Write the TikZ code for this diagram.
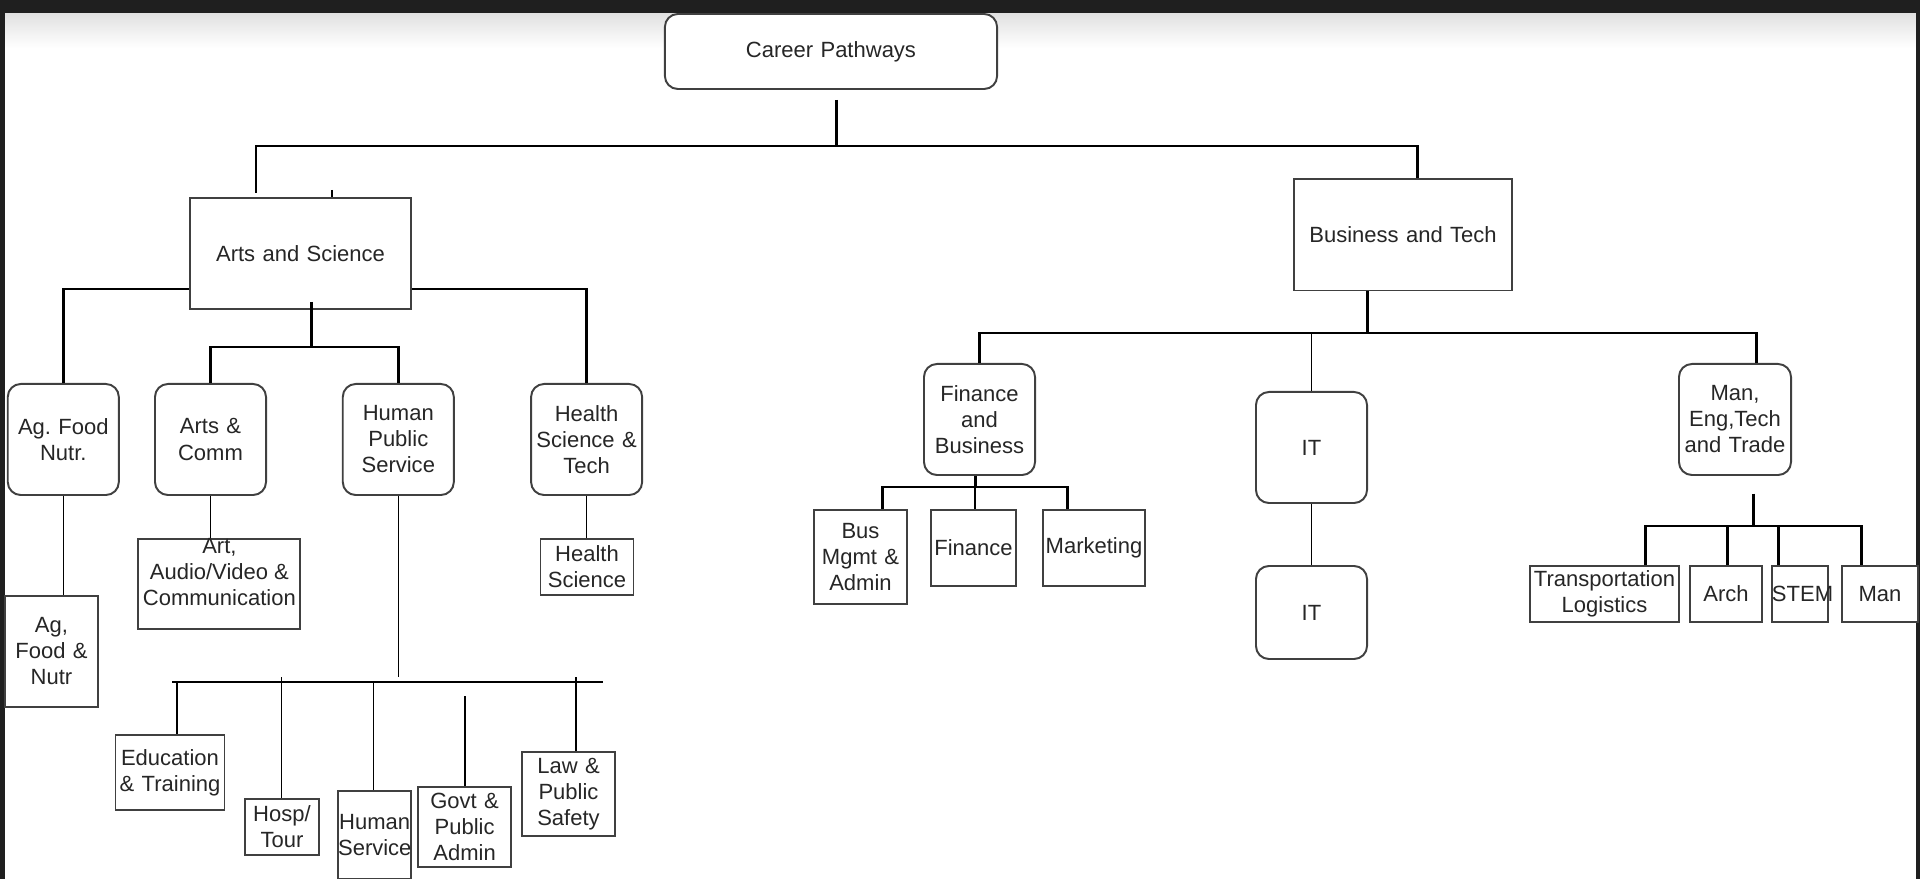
\documentclass[tikz,border=0pt]{standalone}
\usepackage{fontspec}
\setmainfont{Liberation Sans}

\begin{document}
\begin{tikzpicture}[x=0.01cm, y=-0.01cm,
    block_center/.style ={rectangle, draw=black!75, line width=0.55pt, fill=white,
      inner sep=0pt, align=center, text=black!85,
      font=\fontsize{6.26}{7.4}\selectfont},
    block_round/.style ={block_center, rounded corners=0.13cm},
    block_text/.style ={inner sep=0pt, align=center, text=black!85,
      font=\fontsize{6.26}{7.4}\selectfont},
    line/.style ={draw, black, line width=0.85pt},
    line_thin/.style ={draw, black, line width=0.42pt}]
    % screenshot frame
    \fill[white] (0,0) rectangle (1920,879);
    \shade[top color=black!12, bottom color=white] (0,13) rectangle (1920,48);
    \fill[black!88] (0,0) rectangle (1920,13);
    \fill[black!88] (0,0) rectangle (5,879);
    \fill[black!88] (1916,0) rectangle (1920,879);
    \useasboundingbox (0,0) rectangle (1920,879);
    % top - row 1
    \node [block_round, text width=3.32cm, minimum height=0.75cm] (carPath) at (831,51.5) {Career Pathways};
    \node [block_center, text width=2.21cm, minimum height=1.11cm] (artsSci) at (300.5,253.5) {Arts and Science};
    \node [block_center, text width=2.18cm, minimum height=1.11cm] (busTech) at (1403,235) {Business and Tech};
    % arts and science - row 2
    \node [block_round, text width=1.11cm, minimum height=1.11cm] (agFood) at (63.3,439.5) {Ag.\ Food\\Nutr.};
    \node [block_round, text width=1.11cm, minimum height=1.11cm] (artsComm) at (210.5,439.5) {Arts \&\\Comm};
    \node [block_round, text width=1.11cm, minimum height=1.11cm] (humanPub) at (398.3,439.5) {Human\\Public\\Service};
    \node [block_round, text width=1.11cm, minimum height=1.11cm] (healthSciTech) at (586.6,439.5) {Health\\Science \&\\Tech};
    % arts and science - row 3
    \node [block_center, text width=0.93cm, minimum height=1.11cm] (agFoodNutr) at (51.5,651.5) {Ag,\\Food \&\\Nutr};
    \node [block_center, minimum width=1.62cm, minimum height=0.90cm] (artAV) at (219.4,584) {};
    \node [block_text] (artAVtxt) at (219.4,572) {Art,\\Audio/Video \&\\Communication};
    \node [block_center, text width=0.93cm, minimum height=0.56cm] (healthSci) at (587,567) {Health\\Science};
    % human public service - row 4
    \node [block_center, text width=1.09cm, minimum height=0.75cm] (eduTrain) at (170,772.5) {Education\\\& Training};
    \node [block_center, text width=0.74cm, minimum height=0.56cm] (hospTour) at (282,827) {Hosp/\\Tour};
    \node [block_center, text width=0.73cm, minimum height=0.88cm] (humanServ) at (374.6,835) {Human\\Service};
    \node [block_center, text width=0.93cm, minimum height=0.80cm] (govtAdmin) at (464.6,827) {Govt \&\\Public\\Admin};
    \node [block_center, text width=0.93cm, minimum height=0.84cm] (lawSafety) at (568.5,794) {Law \&\\Public\\Safety};
    % business and tech - row 2
    \node [block_round, text width=1.11cm, minimum height=1.11cm] (finBus) at (979.5,419.5) {Finance\\and\\Business};
    \node [block_round, text width=1.11cm, minimum height=1.11cm] (itMid) at (1311.5,447.5) {IT};
    \node [block_round, text width=1.12cm, minimum height=1.11cm] (manEng) at (1735,419.5) {Man,\\Eng,Tech\\and Trade};
    % business and tech - row 3
    \node [block_center, text width=0.93cm, minimum height=0.94cm] (busMgmt) at (860.5,557) {Bus\\Mgmt \&\\Admin};
    \node [block_center, text width=0.85cm, minimum height=0.76cm] (finance) at (973.5,548) {Finance};
    \node [block_center, text width=1.02cm, minimum height=0.76cm] (marketing) at (1094,548) {Marketing};
    \node [block_round, text width=1.11cm, minimum height=0.93cm] (itLow) at (1311.5,612.5) {IT};
    \node [block_center, text width=1.49cm, minimum height=0.56cm] (transLog) at (1604.5,594) {Transportation\\Logistics};
    \node [block_center, text width=0.72cm, minimum height=0.56cm] (arch) at (1726,594) {Arch};
    \node [block_center, text width=0.56cm, minimum height=0.56cm] (stem) at (1800,594) {STEM};
    \node [block_center, text width=0.76cm, minimum height=0.56cm] (manBox) at (1880,594) {Man};
    % junctions
    \coordinate (cpDrop) at (836,100);
    \coordinate (topBarL) at (256,146);
    \coordinate (topBarR) at (1417,146);
    \coordinate (asStub) at (256,193);
    \coordinate (asTick) at (332,190);
    \coordinate (asBarY) at (0,289);
    \coordinate (asDrop) at (311.3,302);
    \coordinate (asJoin) at (311.3,347);
    \coordinate (hpsJoin) at (398.3,677);
    \coordinate (hpsBarL) at (172,682);
    \coordinate (hpsBarM) at (321,682);
    \coordinate (hpsBarR) at (603,682);
    \coordinate (eduTop) at (177,682);
    \coordinate (hospTop) at (281.7,677);
    \coordinate (hsTop) at (373.6,682);
    \coordinate (govtTop) at (465,696);
    \coordinate (lawTop) at (576,677);
    \coordinate (btJoin) at (1367,333);
    \coordinate (btBarR) at (1756,333);
    \coordinate (fbJoin) at (975,487);
    \coordinate (fbBarL) at (882,487);
    \coordinate (fbBarR) at (1067,487);
    \coordinate (meJoin) at (1753,526);
    \coordinate (meBarL) at (1645,526);
    \coordinate (meBarR) at (1861,526);
    \coordinate (archTop) at (1727,526);
    \coordinate (stemTop) at (1778,526);
    % connecting nodes with paths
    \begin{scope}[every path/.style=line]
      \path (cpDrop) -- (cpDrop |- topBarL);
      \path (asStub) |- (topBarR) -- (topBarR |- busTech.north);
      \path (asTick) -- (asTick |- artsSci.north);
      \path (artsSci.west |- asBarY) -| (agFood.north);
      \path (artsSci.east |- asBarY) -| (healthSciTech.north);
      \path (asDrop) -- (asJoin);
      \path (artsComm.north) |- (asJoin) -| (humanPub.north);
      \path (hpsBarM) -- (hpsBarR);
      \path (busTech.south -| btJoin) -- (btJoin);
      \path (finBus.north) |- (btBarR) -- (btBarR |- manEng.north);
      \path (finBus.south -| fbJoin) -- (fbJoin);
      \path (fbBarL |- busMgmt.north) -- (fbBarL) -- (fbBarR) -- (fbBarR |- marketing.north);
      \path ([yshift=-5pt]manEng.south -| meJoin) -- (meJoin);
      \path (meBarL |- transLog.north) -- (meBarL) -- (meBarR) -- (meBarR |- manBox.north);
      \path (archTop) -- (archTop |- arch.north);
      \path (stemTop) -- (stemTop |- stem.north);
    \end{scope}
    \begin{scope}[every path/.style=line_thin]
      \path (agFood.south) -- (agFood.south |- agFoodNutr.north);
      \path (artsComm.south) -- (artsComm.south |- artAV.north);
      \path (healthSciTech.south) -- (healthSciTech.south |- healthSci.north);
      \path (humanPub.south) -- (hpsJoin);
      \path (hpsBarL) -- (hpsBarM);
      \path (eduTop) -- (eduTop |- eduTrain.north);
      \path (hospTop) -- (hospTop |- hospTour.north);
      \path (hsTop) -- (hsTop |- humanServ.north);
      \path (govtTop) -- (govtTop |- govtAdmin.north);
      \path (lawTop) -- (lawTop |- lawSafety.north);
      \path (itMid.north |- btJoin) -- (itMid.north);
      \path (itMid) -- (itLow);
      \path (fbJoin) -- (fbJoin |- finance.north);
    \end{scope}
  \end{tikzpicture}
\end{document}
